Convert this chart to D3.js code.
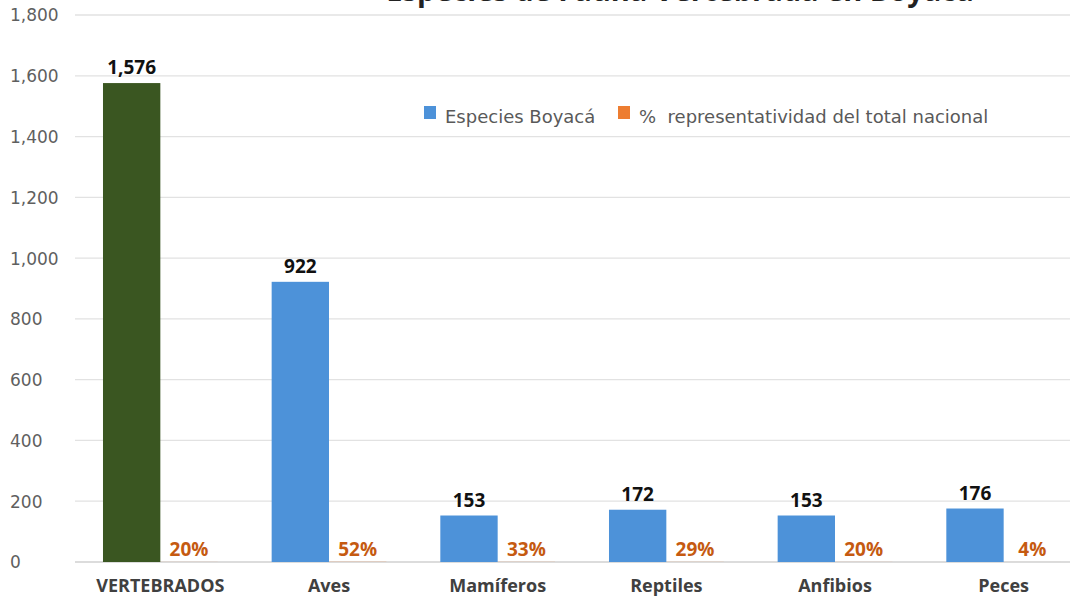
<!DOCTYPE html>
<html><head><meta charset="utf-8">
<script src="https://cdn.jsdelivr.net/npm/d3@7"></script>
<style>body{margin:0;background:#fff}svg{display:block}</style>
</head><body>
<svg id="c" width="1070" height="600"></svg>
<script>
const categories = ["VERTEBRADOS","Aves","Mamíferos","Reptiles","Anfibios","Peces"];
const species = [1576, 922, 153, 172, 153, 176];
const pct = [0.20, 0.52, 0.33, 0.29, 0.20, 0.04];
const yTicks = [0,200,400,600,800,1000,1200,1400,1600,1800];
const seriesNames = ["Especies Boyacá","%  representatividad del total nacional"];
const title = "Especies de Fauna Vertebrada en Boyacá";

const svg = d3.select("#c");
const x = d3.scaleBand().domain(categories).range([76,1088]).paddingInner(0.32).paddingOuter(0.16);
const sub = d3.scaleBand().domain(["s","p"]).range([0,x.bandwidth()]);
const y = d3.scaleLinear().domain([0,1800]).range([562,15]);
const fmt = d3.format(",");

// gridlines
svg.append("g").selectAll("line").data(yTicks).join("line")
  .attr("x1",75).attr("x2",1070).attr("y1",d=>y(d)).attr("y2",d=>y(d))
  .attr("stroke",d=>d===0?"#d0d0d0":"#e2e2e2").attr("stroke-width",1.3);

// y axis labels
const yAxis = d3.axisLeft(y).tickValues(yTicks).tickFormat(fmt).tickSize(0).tickPadding(0);
const ga = svg.append("g").attr("transform","translate(10,0)").call(yAxis);
ga.select(".domain").remove();
ga.selectAll("text").attr("text-anchor","start").attr("x",0).attr("dy","0.35em")
  .attr("fill","#5f5f5f").style("font-family","DejaVu Sans").style("font-size","17px");

// x axis labels
const xAxis = d3.axisBottom(x).tickSize(0).tickPadding(0);
const gx = svg.append("g").attr("transform","translate(0,592)").call(xAxis);
gx.select(".domain").remove();
gx.selectAll("text").attr("dy",0).attr("y",0).attr("fill","#404040")
  .style("font-family","Open Sans").style("font-size","18px").style("font-weight","bold");

const data = categories.map((c,i)=>({c,s:species[i],p:pct[i],i}));
// species bars
svg.append("g").selectAll("rect").data(data).join("rect")
  .attr("x",d=>x(d.c)+sub("s")).attr("width",sub.bandwidth())
  .attr("y",d=>y(d.s)).attr("height",d=>y(0)-y(d.s))
  .attr("fill",d=>d.i===0?"#3a5621":"#4d92d9");
// pct bars (tiny)
svg.append("g").selectAll("rect").data(data).join("rect")
  .attr("x",d=>x(d.c)+sub("p")).attr("width",sub.bandwidth())
  .attr("y",d=>y(d.p)).attr("height",d=>y(0)-y(d.p))
  .attr("fill","#ED7D31");
// value labels
svg.append("g").selectAll("text").data(data).join("text")
  .attr("x",d=>x(d.c)+sub("s")+sub.bandwidth()/2).attr("y",d=>y(d.s)-9)
  .attr("text-anchor","middle").attr("fill","#111")
  .style("font-family","Open Sans").style("font-size","19px").style("font-weight","bold")
  .text(d=>fmt(d.s));
svg.append("g").selectAll("text").data(data).join("text")
  .attr("x",d=>x(d.c)+sub("p")+sub.bandwidth()/2).attr("y",d=>y(d.p)-6)
  .attr("text-anchor","middle").attr("fill","#C55A11")
  .style("font-family","Open Sans").style("font-size","19px").style("font-weight","bold")
  .text(d=>Math.round(d.p*100)+"%");

// legend
const leg = svg.append("g");
const legX = [424, 618];
const legCol = ["#4d92d9","#ED7D31"];
seriesNames.forEach((n,i)=>{
  leg.append("rect").attr("x",legX[i]).attr("y",106).attr("width",12).attr("height",13).attr("fill",legCol[i]);
  leg.append("text").attr("x",legX[i]+21).attr("y",123).attr("fill","#595959")
    .style("font-family","DejaVu Sans").style("font-size","18px").style("white-space","pre").text(n);
});

// title (cut off at top, as in the reference)
svg.append("text").attr("x",680).attr("y",1).attr("text-anchor","middle").attr("fill","#222")
  .style("font-family","Open Sans").style("font-size","29px").style("font-weight","bold").text(title);
</script>
</body></html>
